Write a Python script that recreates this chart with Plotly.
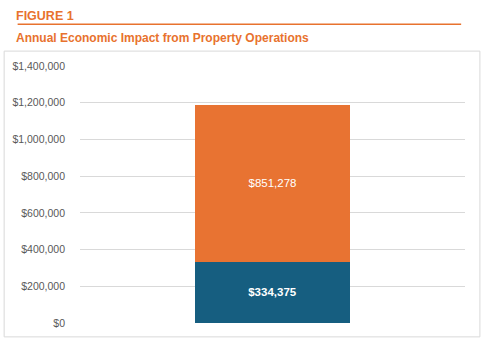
import plotly.graph_objects as go

categories = ["Property Operations"]
direct_values = [334375]
indirect_values = [851278]
tick_vals = [0, 200000, 400000, 600000, 800000, 1000000, 1200000, 1400000]
tick_text = ["$0", "$200,000", "$400,000", "$600,000", "$800,000", "$1,000,000", "$1,200,000", "$1,400,000"]

fig = go.Figure()
fig.add_trace(go.Bar(
    x=categories, y=direct_values, marker=dict(color="#165E80", line=dict(width=0)),
    text=["<b>$334,375</b>"], textposition="inside", insidetextanchor="middle",
    textfont=dict(color="white", size=11.5, family="Liberation Sans, Arial"),
    width=0.402, name="Direct"))
fig.add_trace(go.Bar(
    x=categories, y=indirect_values, marker=dict(color="#E87332", line=dict(width=0)),
    text=["$851,278"], textposition="inside", insidetextanchor="middle",
    textfont=dict(color="white", size=11.5, family="Liberation Sans, Arial"),
    width=0.402, name="Indirect"))

fig.update_layout(
    barmode="stack", width=481, height=341,
    margin=dict(l=77, r=16, t=66, b=16),
    paper_bgcolor="white", plot_bgcolor="white", showlegend=False,
    font=dict(family="Liberation Sans, Arial", color="#595959"),
    xaxis=dict(showticklabels=False, showgrid=False, zeroline=False, range=[-0.5, 0.5]),
    yaxis=dict(range=[0, 1400000], tickvals=tick_vals, ticktext=tick_text,
               showgrid=True, gridcolor="#D9D9D9", gridwidth=1, zeroline=False,
               tickfont=dict(size=10.5, color="#595959"), ticklabelstandoff=14),
    shapes=[
        dict(type="rect", xref="paper", yref="paper", x0=-0.197, x1=1.0387, y0=-0.054, y1=1.058,
             line=dict(color="#D9D9D9", width=1), layer="below"),
        dict(type="line", xref="paper", yref="paper", x0=-0.162, x1=0.990, y0=1.162, y1=1.162,
             line=dict(color="#E8722E", width=1.5)),
    ],
    annotations=[
        dict(text="<b>FIGURE 1</b>", xref="paper", yref="paper", x=-0.164, y=1.169, xshift=-3, yshift=-2,
             xanchor="left", yanchor="bottom", showarrow=False,
             font=dict(size=12.5, color="#E8722E", family="Liberation Sans, Arial")),
        dict(text="<b>Annual Economic Impact from Property Operations</b>", xref="paper", yref="paper",
             x=-0.164, y=1.108, xshift=-3, xanchor="left", yanchor="middle", showarrow=False,
             font=dict(size=12, color="#E8722E", family="Liberation Sans, Arial")),
    ],
)
fig.write_html("out.html")
